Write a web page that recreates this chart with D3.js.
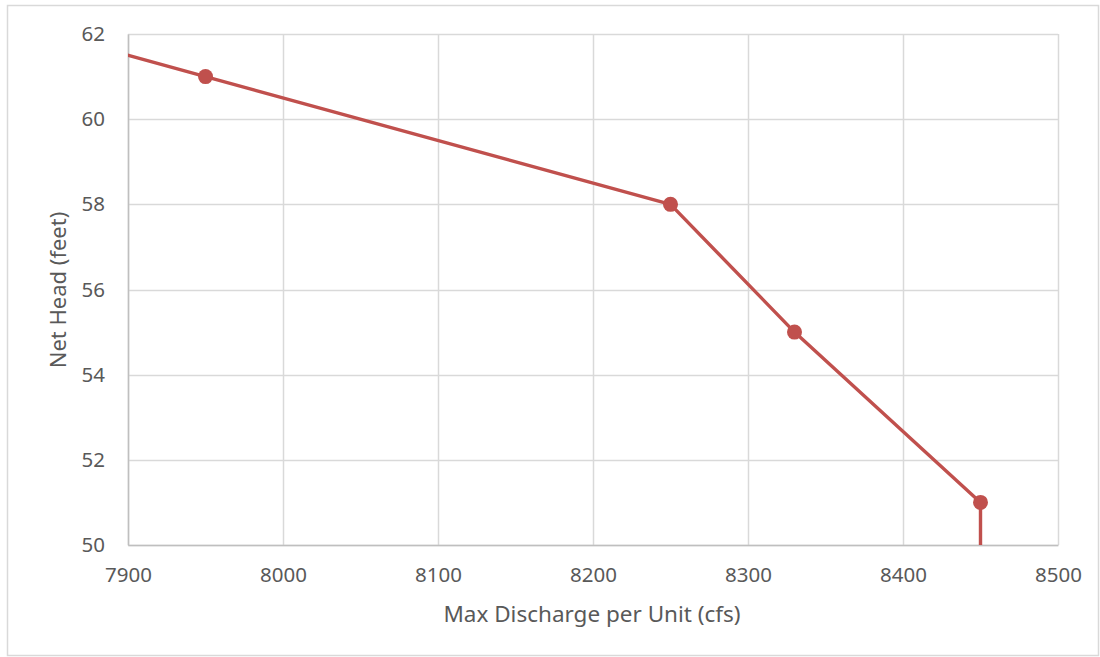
<!DOCTYPE html>
<html><head><meta charset="utf-8">
<script src="https://cdn.jsdelivr.net/npm/d3@7"></script>
<style>body{margin:0;background:#fff;}svg{display:block;}</style>
</head><body>
<svg id="c" width="1100" height="657"></svg>
<script>
const discharge = [7850, 7950, 8250, 8330, 8450, 8450];
const netHead   = [62,   61,   58,   55,   51,   45];
const markerShown = [false, true, true, true, true, false];
const xTicks = [7900, 8000, 8100, 8200, 8300, 8400, 8500];
const yTicks = [50, 52, 54, 56, 58, 60, 62];
const xTitle = "Max Discharge per Unit (cfs)";
const yTitle = "Net Head (feet)";

const svg = d3.select("#c");
const font = "'Noto Sans', 'Open Sans', sans-serif";
svg.append("rect").attr("x",7.5).attr("y",5.5).attr("width",1091).attr("height",650)
  .attr("fill","#fff").attr("stroke","#d9d9d9").attr("stroke-width",1.5);

const L=128, R=1058, T=34, B=545;
const x = d3.scaleLinear().domain([7900,8500]).range([L,R]);
const y = d3.scaleLinear().domain([50,62]).range([B,T]);

const g = svg.append("g");
g.selectAll(".vg").data(xTicks).join("line")
  .attr("x1",d=>Math.round(x(d))+0.5).attr("x2",d=>Math.round(x(d))+0.5)
  .attr("y1",T).attr("y2",B).attr("stroke","#d9d9d9").attr("stroke-width",1.5);
g.selectAll(".hg").data(yTicks).join("line")
  .attr("y1",d=>Math.round(y(d))+0.5).attr("y2",d=>Math.round(y(d))+0.5)
  .attr("x1",L).attr("x2",R).attr("stroke","#d9d9d9").attr("stroke-width",1.5);

const xAxis = d3.axisBottom(x).tickValues(xTicks).tickSize(0).tickPadding(22).tickFormat(d3.format("d"));
const yAxis = d3.axisLeft(y).tickValues(yTicks).tickSize(0).tickPadding(23).tickFormat(d3.format("d"));
const xa = svg.append("g").attr("transform",`translate(0,${B})`).call(xAxis);
const ya = svg.append("g").attr("transform",`translate(${L},0)`).call(yAxis);
[xa,ya].forEach(a=>{
  a.select(".domain").attr("stroke","#bfbfbf").attr("stroke-width",1.5);
  a.selectAll("text").attr("fill","#595959").style("font-family",font).style("font-size","20.5px");
});

svg.append("clipPath").attr("id","clip").append("rect").attr("x",L).attr("y",T).attr("width",R-L).attr("height",B-T);
const pts = discharge.map((d,i)=>({x:d,y:netHead[i],m:markerShown[i]}));
const plot = svg.append("g").attr("clip-path","url(#clip)");
plot.append("path").datum(pts)
  .attr("d", d3.line().x(d=>x(d.x)).y(d=>y(d.y)))
  .attr("fill","none").attr("stroke","#c0504d").attr("stroke-width",3.4).attr("stroke-linejoin","round");
plot.selectAll("circle").data(pts.filter(d=>d.m)).join("circle")
  .attr("cx",d=>x(d.x)).attr("cy",d=>y(d.y)).attr("r",7.5).attr("fill","#c0504d");

svg.append("text").attr("x",592).attr("y",622).attr("text-anchor","middle")
  .attr("fill","#595959").style("font-family",font).style("font-size","22.5px").text(xTitle);
svg.append("text").attr("transform",`translate(66,290) rotate(-90)`).attr("text-anchor","middle")
  .attr("fill","#595959").style("font-family",font).style("font-size","22px").text(yTitle);
</script>
</body></html>
